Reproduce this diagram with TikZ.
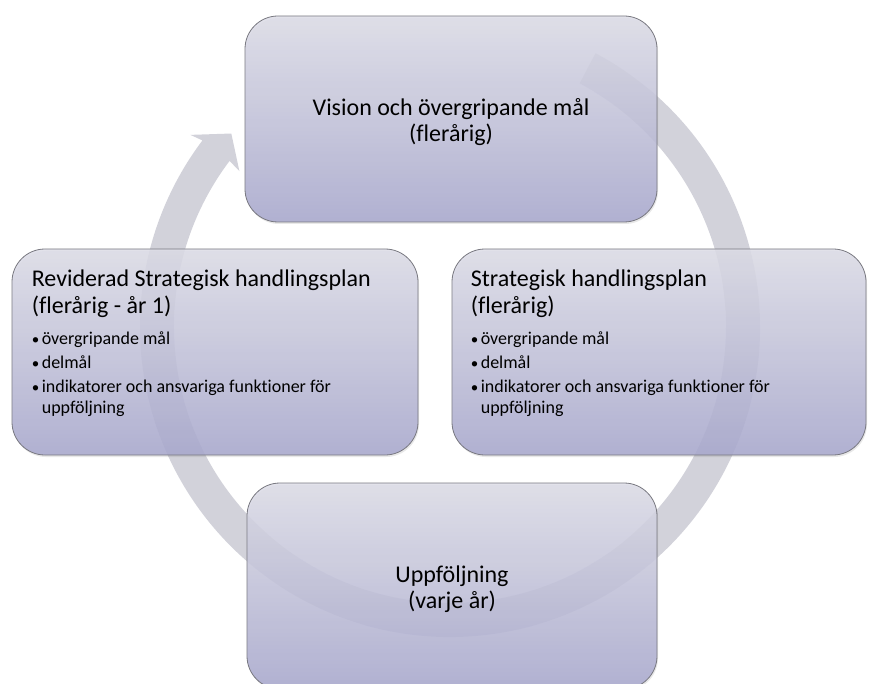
\documentclass[tikz,border=0pt]{standalone}
\usepackage{fontspec}
\setmainfont{Carlito}[Ligatures=NoCommon]
\usetikzlibrary{shadows}
\definecolor{boxtop}{RGB}{221,221,231}
\definecolor{boxbot}{RGB}{168,168,206}
\definecolor{boxline}{RGB}{120,120,128}
\definecolor{arcgray}{RGB}{210,210,218}
\newcommand{\punkt}{\makebox[10pt][l]{\fontsize{15}{15}\selectfont\textbullet}}
\tikzset{
  box/.style={draw=boxline, line width=0.8pt, rounded corners=33pt,
    top color=boxtop, bottom color=boxbot, fill opacity=0.86,
    drop shadow={opacity=0.18, shadow xshift=1pt, shadow yshift=-2pt},
    minimum width=#1, minimum height=206pt, inner sep=0pt},
  boxtxt/.style={inner sep=0pt, align=center, font=\fontsize{24}{26}\selectfont},
  plantxt/.style={anchor=north west, inner sep=0pt, text width=385pt, align=flush left,
    font=\fontsize{24}{27}\selectfont}
}
\begin{document}
\begin{tikzpicture}[x=1pt, y=-1pt]
\useasboundingbox (0,0) rectangle (877,684);
\clip (0,0) rectangle (877,684);
% Arrow round the cycle
				\coordinate (mid) at (450,327);
				\fill[arcgray] ([shift={(mid)}]-62:310) arc[start angle=-62, end angle=217, radius=310]
				  -- ([shift={(mid)}]216.5:323) -- ([shift={(mid)}]221.5:292) -- ([shift={(mid)}]216.5:262)
				  -- ([shift={(mid)}]217:276) arc[start angle=217, end angle=-62, radius=276] -- cycle;
% Boxes
				\node[box=412pt] (vision) at (451,119) {};
				\node[box=406pt] (revid) at (215,352) {};
				\node[box=414pt] (strat) at (659,352) {};
				\node[box=410pt] (uppf) at (452,586) {};
% Texts
				\node[boxtxt] (visiontxt) at ([yshift=-3pt]vision.center) {Vision och övergripande mål\\(flerårig)};
				\node[boxtxt] (uppftxt) at ([yshift=-3pt]uppf.center) {Uppföljning\\(varje år)};
				\node[plantxt] (revidtxt) at ([xshift=20pt, yshift=-21pt]revid.north west) {%
				  Reviderad Strategisk handlingsplan\\(flerårig - år 1)\par\vspace{10pt}
				  \fontsize{18}{21}\selectfont
				  \punkt övergripande mål\\[3pt]
				  \punkt delmål\\[3pt]
				  \punkt indikatorer och ansvariga funktioner för\\
				  \hspace*{10pt}uppföljning\par};
				\node[plantxt] (strattxt) at ([xshift=19pt, yshift=-21pt]strat.north west) {%
				  Strategisk handlingsplan\\(flerårig)\par\vspace{10pt}
				  \fontsize{18}{21}\selectfont
				  \punkt övergripande mål\\[3pt]
				  \punkt delmål\\[3pt]
				  \punkt indikatorer och ansvariga funktioner för\\
				  \hspace*{10pt}uppföljning\par};
\end{tikzpicture}
\end{document}
